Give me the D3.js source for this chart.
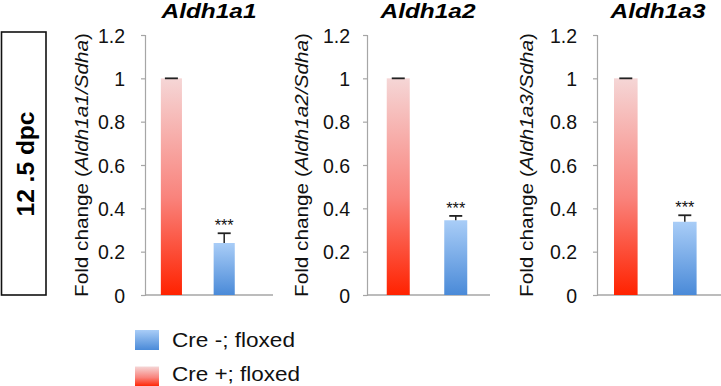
<!DOCTYPE html>
<html>
<head>
<meta charset="utf-8">
<script src="https://cdn.jsdelivr.net/npm/d3@7"></script>
<style>
  body { margin: 0; background: #fff; }
  svg { display: block; font-family: "Liberation Sans", Arial, sans-serif; }
</style>
</head>
<body>
<div id="chart"></div>
<script>
// data
const genes = ["Aldh1a1", "Aldh1a2", "Aldh1a3"];
const groups = ["Cre +; floxed", "Cre -; floxed"];
const crePos = [1, 1, 1];
const crePosErr = [0, 0, 0];
const creNeg = [0.24, 0.345, 0.338];
const creNegErr = [0.045, 0.02, 0.03];
const signif = ["***", "***", "***"];
const yTicks = [0, 0.2, 0.4, 0.6, 0.8, 1, 1.2];
const stageLabel = "12 .5 dpc";

// layout per panel (axis position, plotting range, baseline length, label spots)
const panels = [
  {axisX: 145, range: [145, 250.6], base: 128, titleX: 209, ylabX: 88, tickOff: 20},
  {axisX: 367, range: [369.5, 484.5], base: 123, titleX: 428, ylabX: 308, tickOff: 17},
  {axisX: 597, range: [596.3, 714.3], base: 124, titleX: 658, ylabX: 533, tickOff: 20}
];

const W = 721, H = 386;
const svg = d3.select("#chart").append("svg")
  .attr("width", W).attr("height", H);

const defs = svg.append("defs");
const redGrad = defs.append("linearGradient").attr("id", "gradRed")
  .attr("x1", 0).attr("y1", 0).attr("x2", 0).attr("y2", 1);
redGrad.append("stop").attr("offset", "0%").attr("stop-color", "#f5d6d6");
redGrad.append("stop").attr("offset", "55%").attr("stop-color", "#f9837c");
redGrad.append("stop").attr("offset", "100%").attr("stop-color", "#ff2200");

const blueGrad = defs.append("linearGradient").attr("id", "gradBlue")
  .attr("x1", 0).attr("y1", 0).attr("x2", 0).attr("y2", 1);
blueGrad.append("stop").attr("offset", "0%").attr("stop-color", "#a9cdf7");
blueGrad.append("stop").attr("offset", "100%").attr("stop-color", "#4a8ad8");

const fills = {"Cre +; floxed": "url(#gradRed)", "Cre -; floxed": "url(#gradBlue)"};

const y = d3.scaleLinear().domain([0, 1.2]).range([295, 35]);

// stage box on the left
svg.append("rect")
  .attr("x", 1.5).attr("y", 32).attr("width", 44.5).attr("height", 263)
  .attr("fill", "none").attr("stroke", "#111").attr("stroke-width", 1.6);

svg.append("text")
  .attr("transform", "translate(33.5,164) rotate(-90)")
  .attr("text-anchor", "middle")
  .attr("font-weight", "bold")
  .attr("font-size", 23.5)
  .attr("textLength", 105)
  .attr("lengthAdjust", "spacingAndGlyphs")
  .text(stageLabel);

genes.forEach((gene, i) => {
  const p = panels[i];
  const g = svg.append("g");

  const x = d3.scaleBand().domain(groups).range(p.range)
    .paddingInner(0.6).paddingOuter(0.3);

  // y axis
  const yAxis = d3.axisLeft(y).tickValues(yTicks).tickSize(4)
    .tickFormat(d3.format("~g"));
  const ax = g.append("g").attr("transform", `translate(${p.axisX},0)`).call(yAxis);
  ax.select(".domain").attr("stroke", "#a6a6a6").attr("stroke-width", 1.2);
  ax.selectAll(".tick line").attr("stroke", "#a6a6a6").attr("stroke-width", 1.2);
  ax.selectAll(".tick text")
    .attr("x", -p.tickOff)
    .attr("font-size", 19.5)
    .attr("font-family", "Liberation Sans, Arial, sans-serif")
    .attr("fill", "#111")
    .attr("dy", "0.36em");

  // baseline
  g.append("line")
    .attr("x1", p.axisX).attr("x2", p.axisX + p.base)
    .attr("y1", y(0)).attr("y2", y(0))
    .attr("stroke", "#a6a6a6").attr("stroke-width", 1.5);

  const rows = [
    {grp: groups[0], v: crePos[i], e: crePosErr[i]},
    {grp: groups[1], v: creNeg[i], e: creNegErr[i]}
  ];

  g.selectAll("rect.bar").data(rows).enter().append("rect")
    .attr("class", "bar")
    .attr("x", d => x(d.grp))
    .attr("width", x.bandwidth())
    .attr("y", d => y(d.v))
    .attr("height", d => y(0) - y(d.v))
    .attr("fill", d => fills[d.grp]);

  // error bars (upper only)
  const eb = g.selectAll("g.err").data(rows).enter().append("g").attr("class", "err");
  eb.append("line")
    .attr("x1", d => x(d.grp) + x.bandwidth() / 2)
    .attr("x2", d => x(d.grp) + x.bandwidth() / 2)
    .attr("y1", d => y(d.v)).attr("y2", d => y(d.v + d.e))
    .attr("stroke", "#222").attr("stroke-width", 1.5);
  eb.append("line")
    .attr("x1", d => x(d.grp) + x.bandwidth() / 2 - 6.5)
    .attr("x2", d => x(d.grp) + x.bandwidth() / 2 + 6.5)
    .attr("y1", d => y(d.v + d.e)).attr("y2", d => y(d.v + d.e))
    .attr("stroke", "#222").attr("stroke-width", 1.8);

  // significance stars
  g.append("text")
    .attr("x", x(groups[1]) + x.bandwidth() / 2)
    .attr("y", y(creNeg[i] + creNegErr[i]) - 2)
    .attr("text-anchor", "middle")
    .attr("font-size", 17)
    .attr("fill", "#111")
    .attr("textLength", 19).attr("lengthAdjust", "spacingAndGlyphs")
    .text(signif[i]);

  // title
  g.append("text")
    .attr("x", p.titleX).attr("y", 18)
    .attr("text-anchor", "middle")
    .attr("font-weight", "bold").attr("font-style", "italic")
    .attr("font-size", 20)
    .attr("textLength", 95).attr("lengthAdjust", "spacingAndGlyphs")
    .text(gene);

  // y label
  const yl = g.append("text")
    .attr("transform", `translate(${p.ylabX},165) rotate(-90)`)
    .attr("text-anchor", "middle")
    .attr("font-size", 18.5)
    .attr("fill", "#111")
    .attr("textLength", 264).attr("lengthAdjust", "spacingAndGlyphs");
  yl.append("tspan").text("Fold change (");
  yl.append("tspan").attr("font-style", "italic").text(gene + "/Sdha");
  yl.append("tspan").text(")");
});

// legend
const legendRows = [
  {grp: groups[1], y: 330, base: 347, len: 123},
  {grp: groups[0], y: 366.5, base: 381, len: 128}
];
const lg = svg.append("g");
lg.selectAll("rect").data(legendRows).enter().append("rect")
  .attr("x", 135).attr("y", d => d.y)
  .attr("width", 24).attr("height", 20)
  .attr("fill", d => fills[d.grp]);
lg.selectAll("text").data(legendRows).enter().append("text")
  .attr("x", 172).attr("y", d => d.base)
  .attr("font-size", 20)
  .attr("fill", "#111")
  .attr("textLength", d => d.len).attr("lengthAdjust", "spacingAndGlyphs")
  .text(d => d.grp);
</script>
</body>
</html>
